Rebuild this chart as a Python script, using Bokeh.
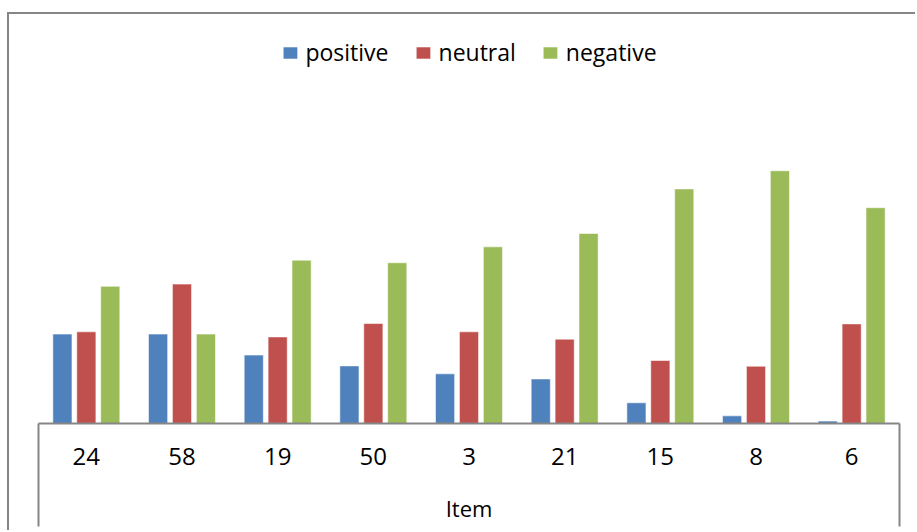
from bokeh.plotting import figure
from bokeh.models import (ColumnDataSource, Range1d, Legend, LegendItem,
                          LinearAxis, FixedTicker)
from bokeh.transform import dodge
from bokeh.embed import file_html
from bokeh.resources import INLINE

# ---- data (share of responses per item, %) ----
items = ["24", "58", "19", "50", "3", "21", "15", "8", "6"]
positive = [28.1, 28.1, 21.5, 18.1, 15.6, 14.0, 6.5, 2.4, 0.75]
neutral = [28.8, 43.8, 27.2, 31.4, 28.8, 26.5, 19.8, 18.0, 31.3]
negative = [43.1, 28.1, 51.3, 50.5, 55.5, 59.7, 73.7, 79.4, 67.8]
series_names = ["positive", "neutral", "negative"]
colors = ["#4F81BD", "#C0504D", "#9BBB59"]

n = len(items)
slot = list(range(n))  # category slot index
src = ColumnDataSource(dict(slot=slot, item=items, positive=positive,
                            neutral=neutral, negative=negative))

FONT = "Open Sans"
GRAY = "#868686"

p = figure(width=908, height=518,
           x_range=Range1d(-0.5, n - 0.5),
           y_range=Range1d(0, 128.5),
           output_backend="svg", toolbar_location=None,
           x_axis_location=None, y_axis_location=None,
           min_border_left=29, min_border_right=18,
           min_border_top=0, min_border_bottom=109,
           outline_line_color=None, background_fill_color="white",
           border_fill_color="white")
# chart-area border (Excel chart frame, top and left edges visible)
p.styles = {"margin-left": "7px", "margin-top": "12px",
            "border-left": f"2px solid {GRAY}", "border-top": f"2px solid {GRAY}"}

offsets = [-0.25, 0.0, 0.25]
renderers = []
for name, col, off in zip(series_names, colors, offsets):
    r = p.vbar(x=dodge("slot", off), top=name, width=0.2, source=src,
               fill_color=col, line_color="white", line_alpha=0.55, line_width=1)
    renderers.append(r)

p.xgrid.visible = False
p.ygrid.visible = False

# category axis: labels at slot centres, boundary lines (minor ticks) at the two ends
ax = LinearAxis(ticker=FixedTicker(ticks=slot, minor_ticks=[-0.5, n - 0.5]),
                major_label_overrides={i: lab for i, lab in zip(slot, items)})
ax.axis_line_color = GRAY
ax.axis_line_width = 2
ax.major_tick_line_color = None
ax.major_tick_out = 0
ax.major_tick_in = 0
ax.minor_tick_line_color = GRAY
ax.minor_tick_line_width = 2
ax.minor_tick_in = 0
ax.minor_tick_out = 103
ax.major_label_text_font = FONT
ax.major_label_text_font_size = "24px"
ax.major_label_text_color = "black"
ax.major_label_standoff = -79   # labels sit inside the tall boundary ticks
ax.axis_label = "Item"
ax.axis_label_text_font = FONT
ax.axis_label_text_font_size = "22px"
ax.axis_label_text_font_style = "normal"
ax.axis_label_text_color = "black"
ax.axis_label_standoff = 25
p.add_layout(ax, "below")

legend = Legend(items=[LegendItem(label=s, renderers=[r]) for s, r in zip(series_names, renderers)],
                orientation="horizontal", location="top_center",
                label_text_font=FONT, label_text_font_size="23px", label_text_color="black",
                glyph_width=18, glyph_height=15, label_standoff=7, spacing=25,
                padding=0, margin=22, border_line_color=None, background_fill_alpha=0)
p.add_layout(legend)

open("out.html", "w").write(file_html(p, INLINE))
